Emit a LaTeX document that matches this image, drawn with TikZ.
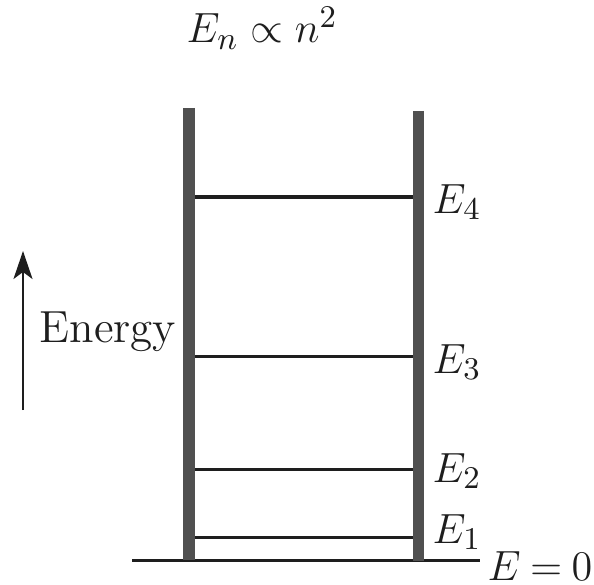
\documentclass[tikz,border=0pt]{standalone}
\usetikzlibrary{arrows.meta}
\definecolor{wallgray}{HTML}{505050}
\definecolor{inkblack}{HTML}{1E1E1E}

\begin{document}
\begin{tikzpicture}[x=0.01cm,y=-0.01cm,
  wall/.style={wallgray,line width=0.11cm},
  level/.style={inkblack,line width=0.03cm},
  lbl/.style={inkblack,font=\fontsize{12.8}{15}\selectfont,inner sep=0pt,anchor=base west}]

  \useasboundingbox (0,0) rectangle (594,585);

  % ---- Floor -------------------------------------------------
  \coordinate (floorL) at (132,560);
  \coordinate (floorR) at (480,560);
  \draw[level] (floorL) -- (floorR);

  % ---- Energy levels, E_n = 22.7 n^2 above the floor ----------
  \foreach \n/\y in {1/537,2/469,3/356,4/197}{
    \coordinate (lvlL\n) at (189,\y);
    \coordinate (lvlR\n) at (418,\y);
    \draw[level] (lvlL\n) -- (lvlR\n);
  }

  % ---- Walls of the well -------------------------------------
  \coordinate (wallLtop) at (189,108);
  \coordinate (wallLbot) at (189,560);
  \coordinate (wallRtop) at (418,111);
  \coordinate (wallRbot) at (418,561);
  \draw[wall] (wallLtop) -- (wallLbot);
  \draw[wall] (wallRtop) -- (wallRbot);

  % ---- Level labels ------------------------------------------
  \node[lbl] (labE4) at (432,213) {$E_4$};
  \node[lbl] (labE3) at (432,373) {$E_3$};
  \node[lbl] (labE2) at (432,482) {$E_2$};
  \node[lbl] (labE1) at (432,543) {$E_1$};
  \node[lbl] (labzero) at (487,580) {$E\mskip4mu{=}\mskip4mu0$};

  % ---- Title and energy axis ---------------------------------
  \node[lbl] (law) at (186,43) {$E_n \propto n^2$};
  \node[lbl] (energy) at (39,342) {Energy};
  \coordinate (arrbot) at (23,410);
  \coordinate (arrtop) at (23,251);
  \draw[inkblack,line width=0.02cm,
        -{Stealth[length=0.28cm,width=0.19cm,inset=0.07cm]}]
    (arrbot) -- (arrtop);

\end{tikzpicture}
\end{document}
